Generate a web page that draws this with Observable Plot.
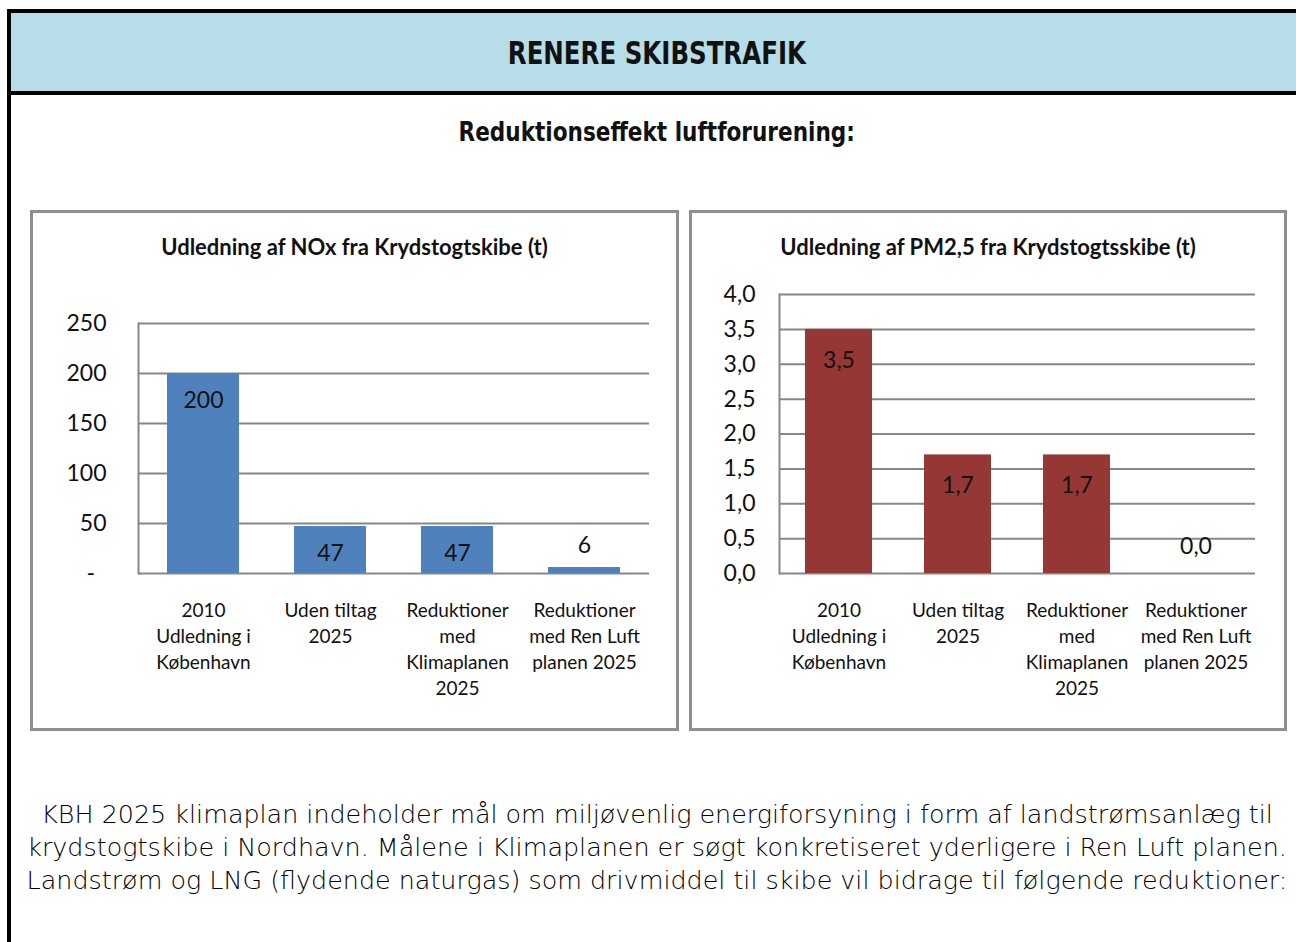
<!DOCTYPE html>
<html>
<head>
<meta charset="utf-8">
<script src="https://cdn.jsdelivr.net/npm/d3@7"></script>
<script src="https://cdn.jsdelivr.net/npm/@observablehq/plot@0.6"></script>
<style>
  html, body { margin: 0; padding: 0; background: #fff; width: 1296px; height: 942px; overflow: hidden; }
  .abs { position: absolute; }
  #frame { left: 7px; top: 9px; width: 1400px; height: 1000px; border-left: 4px solid #000; border-top: 4px solid #000; box-sizing: border-box; }
  #header { left: 11px; top: 13px; width: 1300px; height: 78px; background: #b7dde8; border-bottom: 4px solid #000; }
  .sq { display: inline-block; transform-origin: center; }
  #htitle { left: 11px; width: 1292px; top: 33px; text-align: center; font-family: "DejaVu Sans", sans-serif; font-weight: bold; font-size: 32px; color: #111; line-height: 40px; }
  #htitle .sq { transform: scaleX(0.765); }
  #subtitle { left: 11px; width: 1292px; top: 115px; text-align: center; font-family: "DejaVu Sans", sans-serif; font-weight: bold; font-size: 26px; color: #111; line-height: 34px; }
  #subtitle .sq { transform: scaleX(0.83); }
  .panel { border: 3px solid #8e8e8e; box-sizing: border-box; background: #fff; }
  .ptitle { text-align: center; font-family: Lato, "Open Sans", sans-serif; font-weight: bold; font-size: 22px; color: #111; }
  #body { left: 11px; width: 1292px; top: 798px; text-align: center; font-family: "DejaVu Sans", sans-serif; font-weight: 300; font-size: 25.4px; line-height: 33px; color: #000; white-space: nowrap; }
</style>
</head>
<body>
<div id="frame" class="abs"></div>
<div id="header" class="abs"></div>
<div id="htitle" class="abs"><span class="sq">RENERE SKIBSTRAFIK</span></div>
<div id="subtitle" class="abs"><span class="sq">Reduktionseffekt luftforurening:</span></div>
<div id="p1" class="abs panel" style="left:30px; top:210px; width:649px; height:521px;"></div>
<div id="p2" class="abs panel" style="left:689px; top:210px; width:598px; height:521px;"></div>
<div id="t1" class="abs ptitle" style="left:30px; top:233px; width:649px;">Udledning af NOx fra Krydstogtskibe (t)</div>
<div id="t2" class="abs ptitle" style="left:689px; top:233px; width:598px;">Udledning af PM2,5 fra Krydstogtsskibe (t)</div>
<div id="c1" class="abs" style="left:33px; top:213px;"></div>
<div id="c2" class="abs" style="left:692px; top:213px;"></div>
<div id="body" class="abs">
  <div>KBH 2025 klimaplan indeholder mål om miljøvenlig energiforsyning i form af landstrømsanlæg til</div>
  <div>krydstogtskibe i Nordhavn. Målene i Klimaplanen er søgt konkretiseret yderligere i Ren Luft planen.</div>
  <div>Landstrøm og LNG (flydende naturgas) som drivmiddel til skibe vil bidrage til følgende reduktioner:</div>
</div>
<script>
// ---- data ----
const categories = [
  "2010\nUdledning i\nKøbenhavn",
  "Uden tiltag\n2025",
  "Reduktioner\nmed\nKlimaplanen\n2025",
  "Reduktioner\nmed Ren Luft\nplanen 2025"
];
const noxValues = [200, 47, 47, 6];
const pmValues = [3.5, 1.7, 1.7, 0.0];
const noxTicks = [0, 50, 100, 150, 200, 250];
const pmTicks = [0, 0.5, 1.0, 1.5, 2.0, 2.5, 3.0, 3.5, 4.0];

const noxData = categories.map((c, i) => ({cat: c, value: noxValues[i]}));
const pmData = categories.map((c, i) => ({cat: c, value: pmValues[i]}));

const gridColor = "#878787";
const font = "Lato, 'Open Sans', sans-serif";
const comma = d => d3.format(".1f")(d).replace(".", ",");

function chart({data, ticks, domain, color, width, height, mt, mr, mb, ml, tickFmt, labelFmt, pad, tickPad, bigDy, smallDy, threshold}) {
  return Plot.plot({
    width, height,
    marginTop: mt, marginRight: mr, marginBottom: mb, marginLeft: ml,
    style: {fontFamily: font, color: "#111", background: "transparent", overflow: "visible"},
    x: {domain: categories, paddingInner: pad, paddingOuter: pad / 2, label: null},
    y: {domain, ticks, label: null},
    marks: [
      Plot.gridY(ticks, {stroke: gridColor, strokeOpacity: 1, strokeWidth: 2}),
      Plot.frame({anchor: "left", stroke: gridColor, strokeWidth: 2}),
      Plot.barY(data, {x: "cat", y: "value", fill: color}),
      Plot.axisY(ticks, {tickSize: 0, tickPadding: tickPad, fontSize: 23, tickFormat: tickFmt, label: null}),
      Plot.axisX({tickSize: 0, tickPadding: 25, fontSize: 19, lineHeight: 1.37, label: null}),
      Plot.text(data.filter(d => d.value >= threshold), {x: "cat", y: "value", text: d => labelFmt(d.value), dy: bigDy, fontSize: 23, fill: "#111"}),
      Plot.text(data.filter(d => d.value < threshold), {x: "cat", y: "value", text: d => labelFmt(d.value), dy: smallDy, fontSize: 23, fill: "#111"})
    ]
  });
}

document.getElementById("c1").appendChild(chart({
  data: noxData, ticks: noxTicks, domain: [0, 250], color: "#4f81bd",
  width: 643, height: 515, mt: 110, mr: 27, mb: 155, ml: 105,
  tickFmt: d => d === 0 ? "-\u2002" : String(d), labelFmt: d => String(d),
  pad: 0.43, tickPad: 32, bigDy: 27, smallDy: -22, threshold: 20
}));

document.getElementById("c2").appendChild(chart({
  data: pmData, ticks: pmTicks, domain: [0, 4], color: "#953735",
  width: 592, height: 515, mt: 81, mr: 29, mb: 155, ml: 87,
  tickFmt: comma, labelFmt: comma,
  pad: 0.44, tickPad: 24, bigDy: 31, smallDy: -27, threshold: 0.3
}));
</script>
</body>
</html>
